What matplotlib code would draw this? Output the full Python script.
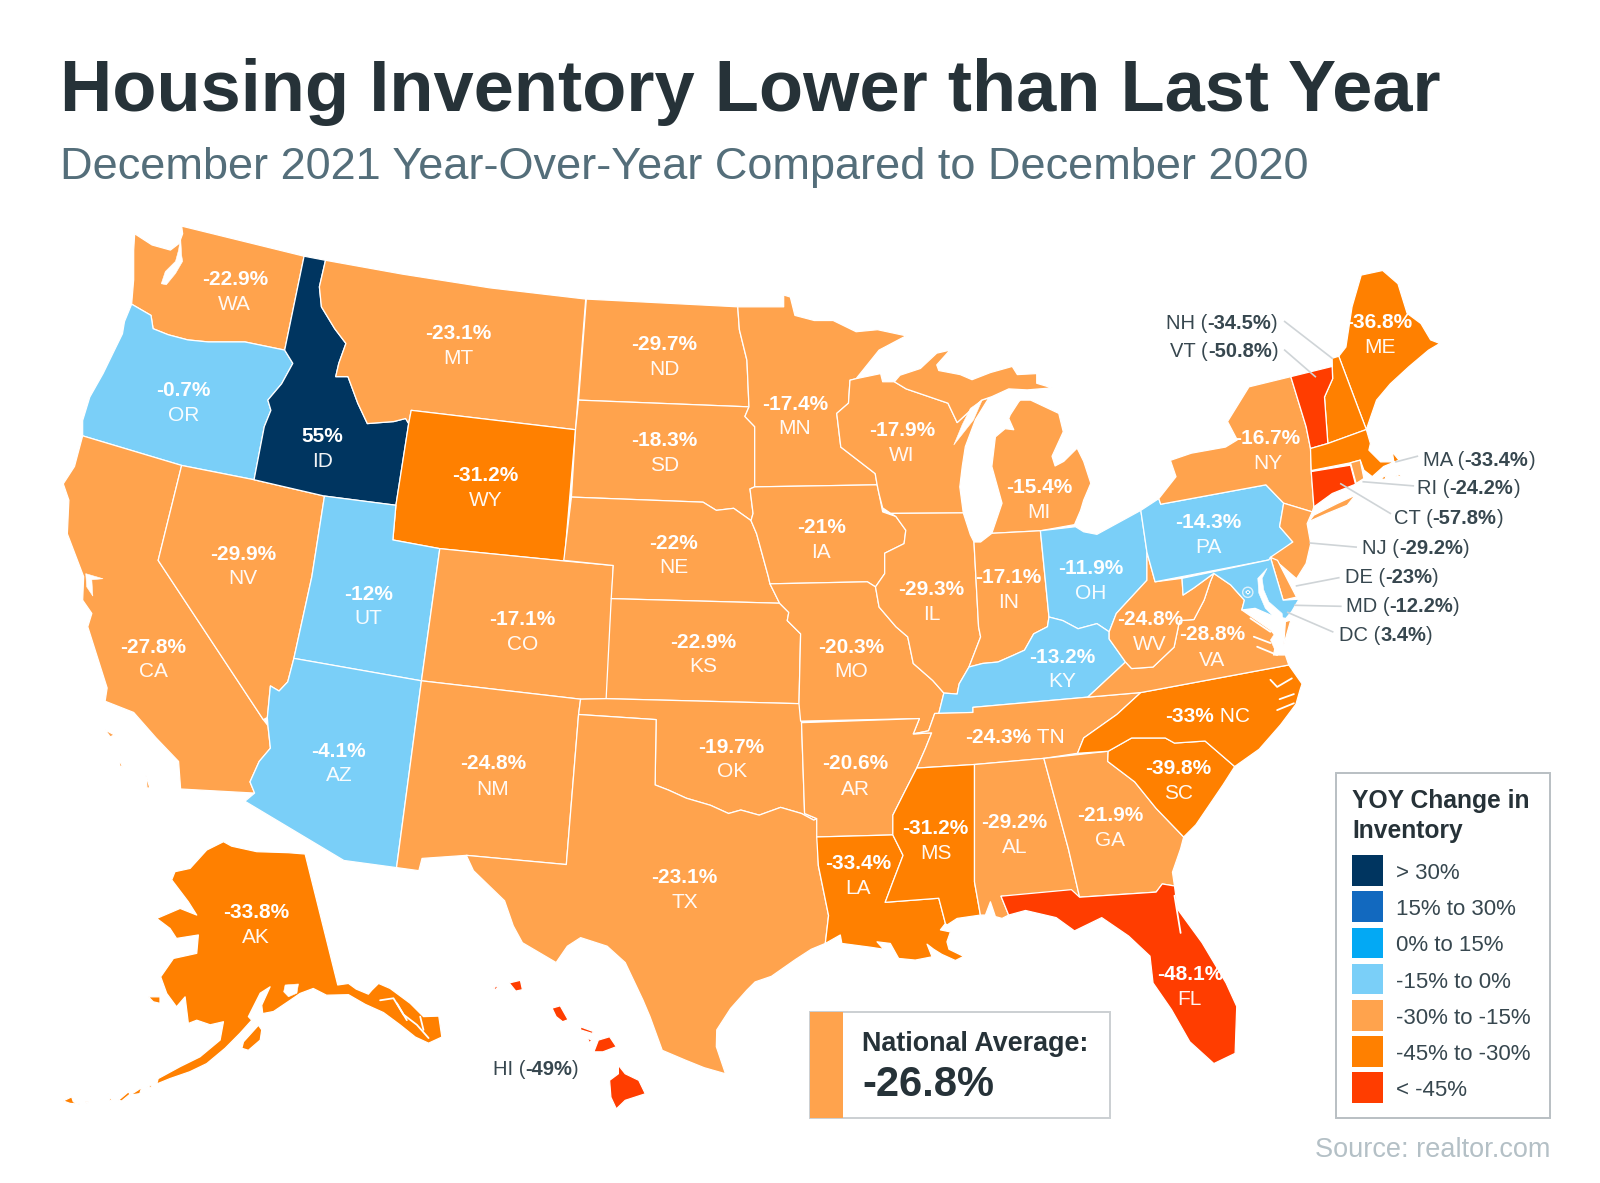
import numpy as np
import matplotlib
matplotlib.use("Agg")
import matplotlib.pyplot as plt
from matplotlib.patches import Polygon, Rectangle, Circle

plt.rcParams['font.family'] = ['Liberation Sans', 'DejaVu Sans']

# ---------- chart values ----------
STATES = ['WA','OR','CA','NV','ID','MT','WY','UT','AZ','CO','NM','ND','SD','NE','KS','OK','TX','MN','IA','MO','AR','LA',
          'WI','IL','MI','IN','OH','KY','TN','MS','AL','GA','FL','SC','NC','VA','WV','PA','NY','ME','AK','HI',
          'NH','VT','MA','RI','CT','NJ','DE','MD','DC']
VALUES = [-22.9,-0.7,-27.8,-29.9,55,-23.1,-31.2,-12,-4.1,-17.1,-24.8,-29.7,-18.3,-22,-22.9,-19.7,-23.1,-17.4,-21,-20.3,-20.6,-33.4,
          -17.9,-29.3,-15.4,-17.1,-11.9,-13.2,-24.3,-31.2,-29.2,-21.9,-48.1,-39.8,-33,-28.8,-24.8,-14.3,-16.7,-36.8,-33.8,-49,
          -34.5,-50.8,-33.4,-24.2,-57.8,-29.2,-23,-12.2,3.4]
BIN_EDGES = [-45,-30,-15,0,15,30]
BIN_COLORS = ['#FF3D00','#FF8000','#FFA34D','#7ACFF8','#03A9F4','#1269BF','#003560']
LEGEND_LABELS = ['> 30%','15% to 30%','0% to 15%','-15% to 0%','-30% to -15%','-45% to -30%','< -45%']
NATIONAL_AVG = -26.8

TITLE = 'Housing Inventory Lower than Last Year'
SUBTITLE = 'December 2021 Year-Over-Year Compared to December 2020'

# ---------- map geometry (state outlines, map frame 1568 x 1159) ----------
GEO = {
'WA':[[(178,221.5),(298,251),(279,343),(240,335),(204,335),(184,333),(165,328),(150,322),(148,309),(129,298),(131,274),(131,245),(132,229),(149,240),(167,245),(175.5,238.5),(179,229)]],
'OR':[[(129,298),(148,309),(150,322),(165,328),(184,333),(204,335),(240,335),(279,343),(287,356),(276,376),(262.5,392),(265.5,402),(259,418),(249,470),(178,456),(81,427),(81,412),(88,389),(101,366),(120,327),(122,315)]],
'CA':[[(81,427),(178,456),(155,549),(258,705),(262.6,711),(265,733),(254,746),(245,766),(249.5,777),(177,773),(175,746),(153,723),(131,698),(103,687),(105,674),(86,614),(90,601),(81,588),(82,565),(66,523),(67.5,490),(62,474),(73,457)],
      [(103,715),(112,720),(108,722)],[(118,745),(120,752),(117,750)],[(143,760),(147,772),(144,772)]],
'NV':[[(178,456),(249,470),(318,486),(305.6,565),(288,645),(282,668),(273.5,677),(265,672),(262,703),(258,705),(155,549)]],
'ID':[[(298,251),(319,255),(313,281),(315,300.6),(328,322),(339,336.5),(332,356),(329,369),(341,369),(350.6,395),(360,415),(386,413),(397.5,410),(400.5,415),(388,495),(318,486),(249,470),(259,418),(265.5,402),(262.5,392),(276,376),(287,356),(279,343)]],
'MT':[[(319,255),(394,268.5),(480,282),(574,293),(564,421),(403,402),(400.5,415),(397.5,410),(386,413),(360,415),(350.6,395),(341,369),(329,369),(332,356),(339,336.5),(328,322),(315,300.6),(313,281)]],
'WY':[[(403,402),(564,421),(553,549.6),(431,537.5),(385,529),(388,495),(400.5,415)]],
'UT':[[(318,486),(388,495),(385,529),(431,537.5),(413,667),(288,645),(305.6,565)]],
'AZ':[[(288,645),(413,667),(388.6,850),(337,843),(240,785),(249.5,777),(245,766),(254,746),(265,733),(262.6,711),(262,703),(265,672),(273.5,677),(282,668)]],
'CO':[[(431,537.5),(553,549.6),(601,554),(595,684.5),(569,685),(413,667)]],
'NM':[[(413,667),(569,685),(567,700),(555,847),(457,838),(413.6,841),(410.5,853),(388.6,850)]],
'ND':[[(574.6,293),(723,300.6),(724.6,323),(732,353),(734,398.6),(567,392)]],
'SD':[[(567,392),(734,398.6),(730,408),(739.6,418),(739.6,477),(735,479),(738,503),(736,510),(719,498),(702,500),(689,492),(560,487),(564,421)]],
'NE':[[(560,487),(689,492),(702,500),(719,498),(736,510),(741.5,523),(753,565),(754.6,572),(764,591),(599,586.5),(601,554),(552.5,549)]],
'KS':[[(599,586.5),(764,591),(773,600),(771.5,608),(784.6,621),(783,689.4),(594,684.5)]],
'OK':[[(569,685),(594,684.5),(784,689.4),(785.5,708),(788.5,797),(800.4,802),(797.5,803.5),(785.5,797),(765,791),(744,798.6),(726,793.6),(714,797),(696.4,789),(672.6,782),(655,774),(642,769),(643,705),(567,700)]],
'TX':[[(567,700),(643,705),(642,769),(655,774),(672.6,782),(696.4,789),(714,797),(726,793.6),(744,798.6),(765,791),(785.5,797),(797.5,803.5),(800.4,802),(802,848),(812,897),(808.8,924.3),(795,930),(779.6,940),(756,956.5),(740,962),(732,970),(716,988),(702.4,1009),(702,1025.5),(711,1052),(690,1046),(672.6,1039),(649,1029),(637,996),(630,979.5),(612.7,943),(595,927),(569,918.6),(556,927),(545,943),(512,923.6),(503,907),(494.5,882.5),(464,853),(457,838),(555,847)]],
'MN':[[(723,300.6),(768,300.6),(768,289),(774.5,291),(779,309),(798,314),(816.5,314),(839,325),(860,323),(888,329),(861.5,343),(839,371),(833,372.5),(831.5,395),(820,405),(824,438),(857.7,464),(859.6,475),(739.6,477),(739.6,418),(730,408),(734,398.6),(732,353),(724.6,323)]],
'IA':[[(735,479),(739.6,477),(859.6,475),(861.5,484),(865,501.5),(878,506),(887.7,519.5),(886,532.6),(867,542),(867,562),(858,575),(850,570),(754.6,572),(753,565),(741.5,523),(736,510),(738,503)]],
'MO':[[(754.6,572),(850,570),(858,575),(861.5,594.7),(878,614),(889.6,624),(895,650),(914,666.6),(925,679),(920,699),(916,699),(910,716),(895,719),(901,704),(784.6,706.5),(783,689.4),(784.6,621),(771.5,608),(773,600),(764,591)]],
'AR':[[(785.5,708),(901,704),(895,719),(913,718),(907,733),(898.4,752.5),(886.6,775.6),(875,798.6),(875,818),(800.4,820),(800.4,802),(788.5,797)]],
'LA':[[(800.4,820),(875,818),(885,838),(875,864),(867.5,884),(920,880),(926.5,904.7),(921.6,911),(931.4,913),(928,922.7),(930,930),(944.4,937),(936.3,941),(923,935),(915,930),(908.5,925),(913.4,937.4),(897,940.6),(880.7,939),(872.5,924.3),(859.5,922.7),(866,930),(853,928),(825,924.3),(823.5,916),(808.8,924.3),(812,897),(802,848)]],
'WI':[[(833,372.5),(839,371),(863,366),(865,374),(876.5,374),(888,381),(929,395),(938,414),(962,392),(969,390),(956,411),(946,437.6),(943,457),(940.6,477),(944,502.5),(873,503),(865,497.6),(861.5,484),(859.6,475),(857.7,464),(824,438),(820,405),(831.5,395)]],
'IL':[[(873,503),(944,502.5),(951,524),(954.5,531),(959,614),(961,624),(949.6,653.5),(940,670),(938,680),(925,679),(914,666.6),(895,650),(889.6,624),(878,614),(861.5,594.7),(858,575),(867,562),(867,542),(886,532.6),(887.7,519.5),(878,506)]],
'MI':[[(876.5,374),(882,367.6),(902,361),(918,346),(931,343),(918,357.5),(920,363),(941,367),(952.6,372),(970.6,365),(992,359),(997,367),(1016,366),(1016,375.5),(1031,380),(1006.6,382),(988.6,381),(972,388.6),(962,392),(938,414),(929,395),(888,381)],
      [(1000,392),(1010,392),(1037.6,405),(1042,423),(1031,447),(1034,456.5),(1042.5,452),(1055.6,439),(1062,452),(1069,473.5),(1062,490),(1059,500),(1053,514),(1019.6,520),(972,522.5),(982,493),(972,457),(975.5,428),(985,420),(993.5,421),(988.6,410),(990,406.5),(998.4,393.5)]],
'IN':[[(954.5,531),(961,531),(972,522.5),(1019.6,520),(1028,604.5),(1026.5,614),(1013,621),(1004,637),(993,642),(978,648.6),(963,650),(949.6,653.5),(961,624),(959,614)]],
'OH':[[(1019.6,520),(1054,516),(1062,521),(1075,523.5),(1118,500),(1124,541),(1124,568.5),(1094,601),(1087,619),(1075,611),(1056.5,616),(1041.5,608),(1028,604.5)]],
'KY':[[(925,679),(938,680),(940,670),(949.6,653.5),(963,650),(978,648.6),(993,642),(1004,637),(1013,621),(1026.5,614),(1028,604.5),(1041.5,608),(1056.5,616),(1075,611),(1087,619),(1087,626),(1103,648.6),(1066,683),(953.5,693),(953.5,698),(920,699)]],
'TN':[[(916,699),(953.5,698),(953.5,693),(1066,683),(1118,678.5),(1094.5,700),(1062,723),(1056,738),(1023,743),(955,749),(898.4,752.5),(907,733),(913,718),(895,719),(910,716)]],
'MS':[[(898.4,752.5),(955,749),(955,864),(960.8,896.5),(938,899.8),(928,906.3),(926.5,904.7),(920,880),(867.5,884),(875,864),(885,838),(875,818),(875,798.6),(886.6,775.6)]],
'AL':[[(955,749),(1023,743),(1047,831.5),(1058,879),(981,878),(988.5,896.5),(982,899.8),(975.5,898),(970.6,883.5),(965.7,896.5),(960.8,896.5),(955,864)]],
'GA':[[(1023,743),(1086,736),(1085.6,746),(1112,766),(1133,792),(1160,820),(1157,831.5),(1149,854.5),(1151,868),(1139,866),(1133,874),(1058,879),(1047,831.5)]],
'FL':[[(981,878),(1050,871.6),(1058,879),(1133,874),(1139,866),(1151,868),(1154,890.7),(1178,923.6),(1201.5,963),(1212,986),(1210.4,1032),(1189.6,1042),(1166,1020.6),(1148,989),(1130,963),(1127,936.7),(1106,917),(1079.7,899),(1053,912),(1035,899),(1005,892),(988.5,896.5)]],
'SC':[[(1086,736),(1109,723),(1142,723),(1151,728),(1181,726),(1210,751),(1198.5,769),(1172,808),(1160,820),(1133,792),(1112,766),(1085.6,746)]],
'NC':[[(1118,678.5),(1263,651.5),(1276,670),(1274,676),(1270,690),(1255,710),(1234,734),(1210,751),(1181,726),(1151,728),(1142,723),(1109,723),(1086,736),(1056,738),(1062,723),(1094.5,700)]],
'VA':[[(1066,683),(1103,648.6),(1109,655),(1130,653.5),(1150.6,634),(1156,608),(1170,607),(1180,588),(1186,570),(1189.5,561.7),(1206,573),(1219.5,588),(1217,597.6),(1245,617),(1251.6,625),(1248,641.7),(1259.7,641.7),(1263,651.5),(1118,678.5)],
      [(1259.7,609),(1265,607.4),(1258,632)]],
'WV':[[(1124,541),(1132,570),(1158.4,566.6),(1159.4,583),(1170,576),(1189.5,561.7),(1186,570),(1180,588),(1170,607),(1156,608),(1150.6,634),(1130,653.5),(1109,655),(1103,648.6),(1087,626),(1087,619),(1094,601),(1124,568.5)]],
'PA':[[(1118,500),(1135.6,488.5),(1137.5,494),(1240.6,475),(1258,493),(1254,516),(1267,531),(1247,547),(1243.4,548.6),(1132,570),(1124,541)]],
'NY':[[(1137.5,494),(1135.6,488.5),(1152.5,467),(1147,451),(1167.5,444),(1201,438),(1212.5,431),(1203,413),(1224,379),(1265,369),(1280,418),(1284.3,439.4),(1285,461),(1287.6,496.6),(1286,501.5),(1258,493),(1240.6,475)],
      [(1282.7,511),(1287.6,504.7),(1310.5,493.3),(1328.4,485),(1320.3,495),(1300.7,503)]],
'VT':[[(1265,369),(1305.5,359),(1306,371),(1298,389),(1301.3,434.5),(1284.3,439.4),(1280,418)]],
'NH':[[(1312,349),(1330.6,398.6),(1339,420.8),(1301.3,434.5),(1298,389),(1306,371),(1305.5,351)]],
'ME':[[(1312,349),(1319,340),(1325,300.6),(1334,269.5),(1355,265),(1370,278),(1379,307),(1392.5,317),(1402,333),(1411,336.5),(1400,343),(1381,359),(1362.5,376),(1349,392),(1339,420.8),(1330.6,398.6)]],
'MA':[[(1284.3,439.4),(1301.3,434.5),(1339,420.8),(1343,434.5),(1341.5,441),(1353,452.5),(1366,452.5),(1364.4,442.7),(1371,450.8),(1356,457),(1344.8,467),(1336.6,460.6),(1333,450.8),(1323.5,453.4),(1285,461)],
      [(1353,468.8),(1358.8,465.5),(1357,469.8)],[(1367.7,466.5),(1372.6,464.5),(1372,467)]],
'RI':[[(1323.5,453.4),(1333,450.8),(1336.6,468.8),(1329,473.7)]],
'CT':[[(1285,462),(1323.5,455.7),(1328.4,474.4),(1305.6,483.5),(1287.6,496.6)]],
'NJ':[[(1258,493),(1286,501.5),(1281,513),(1284.5,532.6),(1280,552),(1270.6,567),(1255.6,554),(1245,546),(1267,531),(1254,516)]],
'DE':[[(1245,546),(1252,549),(1270.6,585),(1257.5,588)]],
'MD':[[(1158.4,566.6),(1243.4,548.6),(1245,546),(1257.5,588),(1273,587),(1266,599),(1260,606),(1245,602.5),(1230,596),(1217,597.6),(1219.5,588),(1206,573),(1189.5,561.7),(1170,576),(1159.4,583)]],
'DC':[[(1221,580),(1223,578.5),(1225,580),(1223,582)]],
'AK':[[(219,824.6),(227,829),(251.6,834.4),(282.7,835.4),(299,836.7),(331,965),(341.5,963.5),(349,969),(361,974),(364.4,970),(371,963.5),(382.3,968.4),(402,983),(415,996),(430,995.5),(433,1016),(420,1022),(407,1016),(392,1004),(375.8,992),(358,984),(341.5,974.5),(320,975),(307,968.4),(294,973.3),(284.3,980),(268,991),(257.5,993),(256.5,984.8),(264.7,966.8),(255,973),(243.4,996),(246.7,999.5),(235,1012.5),(220.6,1027),(202.6,1042),(186,1050),(166.6,1056.7),(153.6,1062),(155,1056.7),(176.5,1045),(196,1035.4),(215.7,1019),(219,1001),(206,1004),(192.8,999.5),(184.6,1002.7),(181.4,976.6),(173,986.4),(163.4,973.3),(157.5,957),(170,939),(192.8,934),(194.4,916),(173,919.4),(166.6,909.6),(153.6,899.8),(176.5,890),(192.8,896.5),(184.6,883.5),(168.3,862),(171.5,854),(186.3,850.8),(202.6,832.8)],
      [(238.6,1020.7),(253.3,1004.4),(256.5,1009),(255,1019),(243.4,1029),(237,1027)],[(145.4,976.6),(156.8,976.6),(156.8,983),(150.3,981.5)],
      [(116,1078),(125.8,1069.7),(127.4,1072),(119.3,1078.6)],[(127.4,1073),(138.9,1065.5),(137,1071.4)],[(143.8,1065.5),(148.7,1062.5),(148.7,1065)],
      [(62,1078.6),(70.2,1074.6),(71.9,1079.5),(78.4,1081.8),(68.6,1081)],[(83.3,1079.5),(86.6,1079.5),(85,1081)],[(106,1077),(110.4,1076),(108.5,1078.6)]],
'HI':[[(606,1043.6),(612.7,1052),(626,1058.4),(632.4,1071.6),(612.7,1078),(604,1086.4),(598.7,1075),(597.4,1058.4),(606,1052)],
      [(586.4,1019),(597.4,1015.7),(604,1025.5),(590.8,1030.5),(582,1030.5)],[(569,1006),(582,1010.8),(580,1012.4),(569,1009)],
      [(575.5,1017),(580,1019),(577.7,1021.6)],[(541,987.7),(549,985.4),(556.7,999),(551.4,1001),(545,996)],
      [(499,963),(510,960.4),(512,969.6),(505.5,971)],[(483.6,968),(489,964.7),(486,969.6)]],
}
WATER = [
 [(177,232),(178,250),(179,256),(172,268),(163,279),(158,278),(162,266),(172,256),(175,245)],         # Puget Sound
 [(84,562),(101,567),(90,568),(91,584),(85,575)],                                                     # SF Bay
 [(962.5,392),(951,400),(943,416),(934.7,436),(954,411.5)],                                           # Green Bay
 [(1241.8,556.8),(1236.9,566.6),(1238.5,578),(1243.4,589.5),(1256.5,601),(1258,614),(1256.5,630),(1259.7,640),(1251.6,641.7),(1245,627),(1251.6,617),(1250,606),(1240,596),(1233.6,581),(1232.6,566.6)], # Chesapeake
 [(279.4,965),(292.5,964),(291,973),(282.7,976.6),(278,971.7)],                                       # Prince William Sound
]
WATER_LINES = [
 [(1225.4,605.8),(1245,619)],[(1228.7,623.8),(1245,630)],[(1232,633.6),(1251.6,641.7)],   # Virginia rivers
 [(1245,666),(1251.6,673),(1266,664.6)],[(1251.6,695.7),(1268,689)],[(1254,685),(1268,680)], # NC sounds
 [(372.5,980),(385.6,978),(395.4,994),(408.5,1004),(420,1017)],[(389,983),(398.7,999.5)],[(411.8,996),(415,1009)], # AK panhandle
 [(1151,877.5),(1157,914)],                                                               # Indian River
]

VALUE_POS = {'WA':(230,272,296),'MT':(449,325,349),'OR':(180,381,405),'ID':(316,426,450),'WY':(476,464,488),'NV':(238,541,565),
 'UT':(361,580,604),'CO':(512,605,629),'CA':(150,632,656),'AZ':(332,734,758),'NM':(483,746,771),'ND':(651,336,360),'SD':(651,430,454),
 'NE':(660,530,554),'KS':(689,627,651),'OK':(717,730,754),'TX':(671,858,882),'MN':(779,394,418),'IA':(805,515,539),'MO':(834,632,656),
 'AR':(838,746,771),'LA':(841,844,868),'WI':(884,420,444),'IL':(913,576,600),'MI':(1018,476,500),'IN':(988,564,588),'OH':(1069,555,579),
 'KY':(1041,642,666),'MS':(917,810,834),'AL':(994,804,828),'GA':(1088,797,821),'FL':(1166,953,977),'SC':(1155,751,775),'PA':(1184,510,534),
 'NY':(1242,428,452),'ME':(1352,314,338),'WV':(1127,605,629),'VA':(1188,620,645),'AK':(251,892,916)}
INLINE_POS = {'TN':(946,721),'NC':(1142,700)}
OUTSIDE_POS = {'NH':(1143,315),'VT':(1147,342),'MA':(1395,449),'RI':(1389,477),'CT':(1366,506),'NJ':(1335,535),'DE':(1318,564),
               'MD':(1319,592),'DC':(1312,621),'HI':(483,1046)}
LEADERS = [((1259,315),(1305.5,351)),((1259,343),(1289,369)),((1389,447),(1368,452.5)),((1385,476),(1336,472)),((1362.5,503),(1314,474)),
           ((1329,536),(1284,532)),((1312,566),(1270.6,574)),((1314,594),(1269,593)),((1306,619),(1262,600))]

# ---------- drawing ----------
W, H = 1568, 1159
DY = 2
fig = plt.figure(figsize=(16, 11.83), dpi=100)
ax = fig.add_axes([0, 0, 1, 1])
ax.set_xlim(0, W); ax.set_ylim(H, 0); ax.axis('off')

def color_of(v):
    return BIN_COLORS[int(np.digitize(v, BIN_EDGES))]

val = dict(zip(STATES, VALUES))
for st in STATES:
    for ring in GEO[st]:
        ax.add_patch(Polygon(ring, closed=True, facecolor=color_of(val[st]), edgecolor='white', lw=0.9, joinstyle='round', zorder=2))
for ring in WATER:
    ax.add_patch(Polygon(ring, closed=True, facecolor='white', edgecolor='white', lw=0.4, zorder=3))
for line in WATER_LINES:
    xs, ys = zip(*line)
    ax.plot(xs, ys, color='white', lw=1.3, zorder=3, solid_capstyle='round')
ax.add_patch(Circle((1222.8, 580.3), 5, facecolor='none', edgecolor='#DDF1FB', lw=1.0, zorder=4))

TXT = '#263238'
ax.text(59, 90, TITLE, fontsize=52, fontweight='bold', color=TXT, va='center', ha='left')
ax.text(59, 164, SUBTITLE, fontsize=32.5, color='#546E7A', va='center', ha='left')

def fmt(v):
    return f'{v:g}%'

for st, (x, y1, y2) in VALUE_POS.items():
    ax.text(x, y1 + DY, fmt(val[st]), color='white', fontsize=15, fontweight='bold', ha='center', va='center', zorder=6)
    ax.text(x, y2 + DY, st, color='white', fontsize=15, ha='center', va='center', zorder=6, alpha=0.95)

fig.canvas.draw()
rend = fig.canvas.get_renderer()
inv = ax.transData.inverted()

def chain(x, y, parts, **kw):
    """Draw consecutive text pieces (string, weight) on one baseline."""
    for s, w in parts:
        t = ax.text(x, y, s, fontweight=w, va='center_baseline', ha='left', zorder=6, **kw)
        bb = t.get_window_extent(rend)
        x = inv.transform((bb.x1, bb.y0))[0]

for st, (x, y) in INLINE_POS.items():
    chain(x, y, [(fmt(val[st]), 'bold'), ('\u00a0' + st, 'normal')], color='white', fontsize=15)

for st, (x, y) in OUTSIDE_POS.items():
    chain(x, y, [(st + ' (', 'normal'), (fmt(val[st]), 'bold'), (')', 'normal')], color='#37474F', fontsize=14.5)

for a, b in LEADERS:
    ax.plot([a[0], b[0]], [a[1], b[1]], color='#CFD4D7', lw=1.2, zorder=5)

# National average box
ax.add_patch(Rectangle((794, 991), 294, 104, facecolor='white', edgecolor='#CBCFD2', lw=1.4, zorder=2))
ax.add_patch(Rectangle((794, 991), 32, 104, facecolor=color_of(NATIONAL_AVG), edgecolor='none', zorder=3))
ax.text(845, 1023, 'National Average:', fontsize=19.4, fontweight='bold', color=TXT, va='center', ha='left')
ax.text(845, 1063, fmt(NATIONAL_AVG), fontsize=30, fontweight='bold', color=TXT, va='center', ha='left')

# Legend
ax.add_patch(Rectangle((1309, 757), 210, 338, facecolor='white', edgecolor='#B9BFC3', lw=1.4, zorder=2))
ax.text(1325, 785, 'YOY Change in', fontsize=17.7, fontweight='bold', color=TXT, va='center', ha='left')
ax.text(1325, 814, 'Inventory', fontsize=17.7, fontweight='bold', color=TXT, va='center', ha='left')
for i, (lab, col) in enumerate(zip(LEGEND_LABELS, BIN_COLORS[::-1])):
    y0 = 838 + i * 35.4
    ax.add_patch(Rectangle((1325, y0), 30, 30, facecolor=col, edgecolor='none', zorder=3))
    ax.text(1368, y0 + 18, lab, fontsize=16, color='#37474F', va='center', ha='left')

ax.text(1519, 1127, 'Source: realtor.com', fontsize=19.5, color='#B4C0C6', va='center', ha='right')

fig.savefig('out.png', dpi=100, facecolor='white')
